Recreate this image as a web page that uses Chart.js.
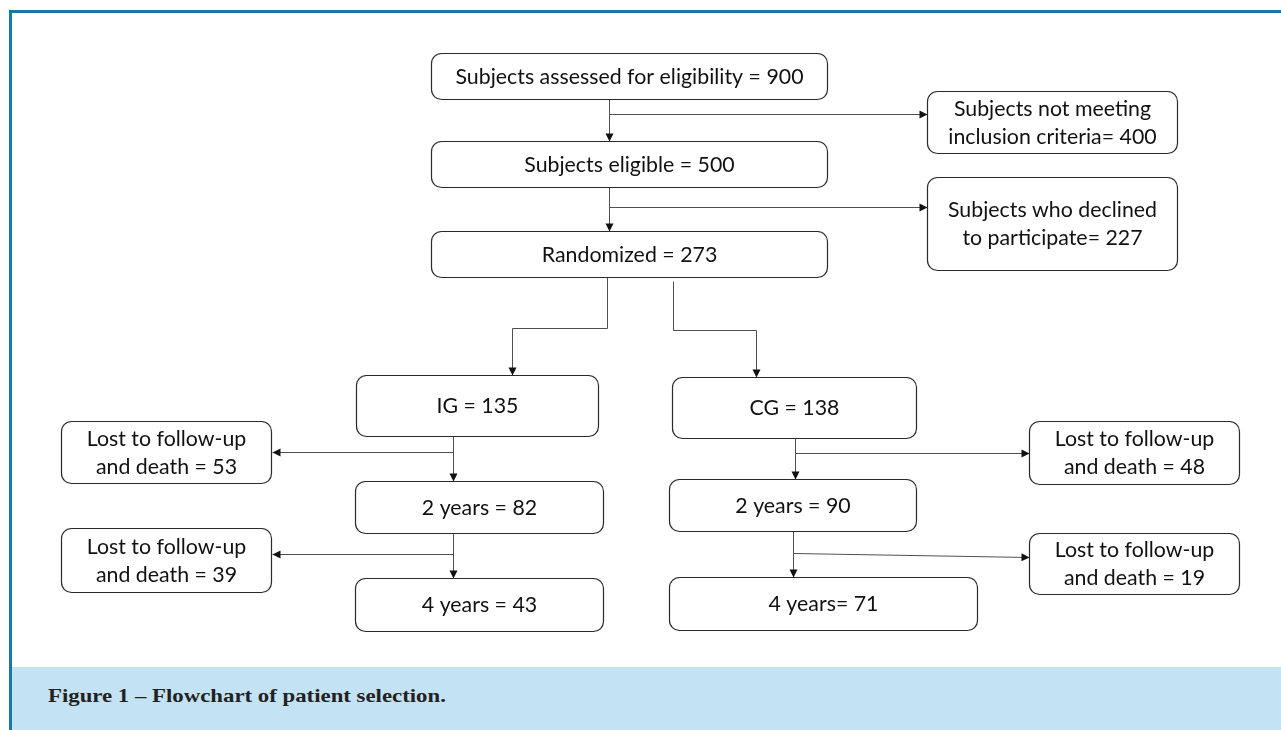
<!DOCTYPE html>
<html>
<head>
<meta charset="utf-8">
<script src="https://cdn.jsdelivr.net/npm/chart.js@4.4.1/dist/chart.umd.min.js"></script>
<style>
  html, body { margin:0; padding:0; background:#ffffff; width:1281px; height:730px; overflow:hidden; }
  #frameTop { position:absolute; left:9px; top:10px; width:1272px; height:3px; background:#1a78a6; }
  #frameLeft { position:absolute; left:9px; top:10px; width:3px; height:720px; background:#1a78a6; }
  #caption { position:absolute; left:12px; top:667px; width:1269px; height:63px; background:#c3e2f3; }
  #captionText { position:absolute; left:48px; top:685px; font-family:"Liberation Serif", serif; font-weight:bold; font-size:19px; line-height:22px; color:#222; white-space:nowrap; transform:scaleX(1.2); transform-origin:0 0; }
  #wrap { position:absolute; left:0; top:0; width:1281px; height:730px; }
</style>
</head>
<body>
<div id="caption"></div>
<div id="frameTop"></div>
<div id="frameLeft"></div>
<div id="captionText">Figure 1 – Flowchart of patient selection.</div>
<div id="wrap"><canvas id="c" width="1281" height="730"></canvas></div>
<script>
// ---- DATA ----
const stageTemplates = [
  ["Subjects assessed for eligibility = {n}"],
  ["Subjects not meeting", "inclusion criteria= {n}"],
  ["Subjects eligible = {n}"],
  ["Subjects who declined", "to participate= {n}"],
  ["Randomized = {n}"],
  ["IG = {n}"],
  ["CG = {n}"],
  ["Lost to follow-up", "and death = {n}"],
  ["2 years = {n}"],
  ["Lost to follow-up", "and death = {n}"],
  ["2 years = {n}"],
  ["Lost to follow-up", "and death = {n}"],
  ["4 years = {n}"],
  ["Lost to follow-up", "and death = {n}"],
  ["4 years= {n}"]
];
const stageCounts = [900, 400, 500, 227, 273, 135, 138, 53, 82, 48, 90, 39, 43, 19, 71];

// ---- LAYOUT (chart coordinates) ----
const boxRects = [
  [431, 53, 827, 99],
  [927, 91, 1177, 153],
  [431, 141, 827, 187],
  [927, 177, 1177, 270],
  [431, 231, 827, 277],
  [356, 375, 598, 436],
  [672, 377, 916, 438],
  [61, 421, 271, 483],
  [355, 481, 603, 533],
  [1029, 421, 1239, 484],
  [669, 479, 916, 531],
  [61, 528, 271, 592],
  [355, 578, 603, 631],
  [1029, 533, 1239, 594],
  [669, 577, 977, 630]
];
const connectors = [
  [[609, 99], [609, 141]],
  [[609, 114], [927, 114]],
  [[609, 187], [609, 231]],
  [[609, 207], [927, 207]],
  [[607, 277], [607, 328], [512, 328], [512, 375]],
  [[673, 281], [673, 330], [756, 330], [756, 377]],
  [[453, 436], [453, 481]],
  [[453, 452], [272, 452]],
  [[453, 533], [453, 578]],
  [[453, 554], [272, 554]],
  [[795, 438], [795, 479]],
  [[795, 453], [1029, 453]],
  [[793, 531], [793, 577]],
  [[793, 553], [1029, 557]]
];

const flowPlugin = {
  id: 'flow',
  afterDatasetsDraw(chart) {
    const ctx = chart.ctx;
    const xs = chart.scales.x, ys = chart.scales.y;
    const px = v => Math.round(xs.getPixelForValue(v));
    const py = v => Math.round(ys.getPixelForValue(v));
    ctx.save();
    connectors.forEach(pts => {
      ctx.strokeStyle = '#505050';
      ctx.lineWidth = 1;
      ctx.beginPath();
      pts.forEach((p, i) => {
        const x = px(p[0]) + 0.5, y = py(p[1]) + 0.5;
        if (i === 0) ctx.moveTo(x, y); else ctx.lineTo(x, y);
      });
      ctx.stroke();
      const a = pts[pts.length - 2], b = pts[pts.length - 1];
      const x1 = px(a[0]) + 0.5, y1 = py(a[1]) + 0.5, x2 = px(b[0]) + 0.5, y2 = py(b[1]) + 0.5;
      const ang = Math.atan2(y2 - y1, x2 - x1);
      const L = 8, W = 4;
      ctx.fillStyle = '#111';
      ctx.beginPath();
      ctx.moveTo(x2, y2);
      ctx.lineTo(x2 - L * Math.cos(ang) + W * Math.sin(ang), y2 - L * Math.sin(ang) - W * Math.cos(ang));
      ctx.lineTo(x2 - L * Math.cos(ang) - W * Math.sin(ang), y2 - L * Math.sin(ang) + W * Math.cos(ang));
      ctx.closePath();
      ctx.fill();
    });
    boxRects.forEach((r, i) => {
      const x1 = px(r[0]) + 0.5, y1 = py(r[1]) + 0.5, x2 = px(r[2]) + 0.5, y2 = py(r[3]) + 0.5;
      ctx.beginPath();
      ctx.roundRect(x1, y1, x2 - x1, y2 - y1, 10);
      ctx.fillStyle = '#ffffff';
      ctx.fill();
      ctx.strokeStyle = '#2a2a2a';
      ctx.lineWidth = 1.2;
      ctx.stroke();
      const lines = stageTemplates[i].map(t => t.replace('{n}', stageCounts[i]));
      const cx = (x1 + x2) / 2, cy = (y1 + y2) / 2;
      ctx.fillStyle = '#111';
      ctx.font = '22px Lato, "Open Sans", sans-serif';
      ctx.textAlign = 'center';
      ctx.textBaseline = 'middle';
      const lh = 28;
      lines.forEach((ln, k) => {
        const y = cy + (k - (lines.length - 1) / 2) * lh;
        ctx.save();
        ctx.translate(cx, y);
        ctx.scale(0.97, 1);
        ctx.fillText(ln, 0, 0);
        ctx.restore();
      });
    });
    ctx.restore();
  }
};

new Chart(document.getElementById('c'), {
  type: 'scatter',
  data: {
    datasets: [{
      data: boxRects.map(r => ({ x: (r[0] + r[2]) / 2, y: (r[1] + r[3]) / 2 })),
      pointRadius: 0,
      showLine: false
    }]
  },
  options: {
    responsive: false,
    devicePixelRatio: 1,
    animation: false,
    layout: { padding: 0 },
    plugins: { legend: { display: false }, tooltip: { enabled: false } },
    scales: {
      x: { type: 'linear', min: 0, max: 1281, display: false },
      y: { type: 'linear', min: 0, max: 730, reverse: true, display: false }
    }
  },
  plugins: [flowPlugin]
});
</script>
</body>
</html>
